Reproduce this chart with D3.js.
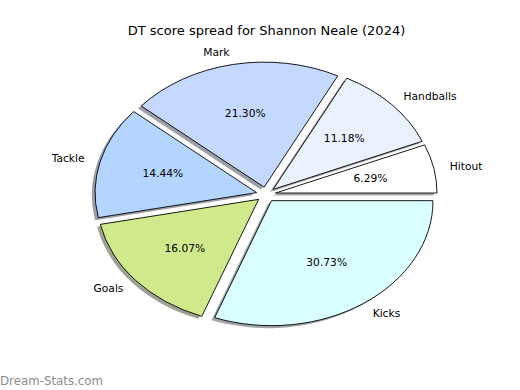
<!DOCTYPE html>
<html>
<head>
<meta charset="utf-8">
<script src="https://cdn.jsdelivr.net/npm/d3@7"></script>
<style>
  body { margin: 0; background: #fff; }
  svg { display: block; font-family: "DejaVu Sans", sans-serif; }
</style>
</head>
<body>
<svg width="520" height="390"></svg>
<script>
// data
var categories = ["Hitout", "Handballs", "Mark", "Tackle", "Goals", "Kicks"];
var values = [6.29, 11.18, 21.30, 14.44, 16.07, 30.73];
var colors = ["#ffffff", "#eaf1ff", "#c5d8ff", "#b3d5ff", "#cfe98b", "#d9ffff"];

var svg = d3.select("svg"),
    cx = 266, cy = 194.5,
    rx = 161.5, ry = 125,
    explode = 0.06;

// unit circle -> screen (pie is stretched like the original)
var x = d3.scaleLinear().domain([-1, 1]).range([cx - rx, cx + rx]),
    y = d3.scaleLinear().domain([-1, 1]).range([cy + ry, cy - ry]);

var data = categories.map(function(c, i) { return { name: c, value: values[i], color: colors[i] }; });

// start at 3 o'clock, go counter clockwise
var pie = d3.pie()
    .sort(null)
    .value(function(d) { return d.value; })
    .startAngle(Math.PI / 2)
    .endAngle(Math.PI / 2 - 2 * Math.PI);

var arcs = pie(data);
var arc = d3.arc().innerRadius(0).outerRadius(1);

function mid(d) { return (d.startAngle + d.endAngle) / 2; }
// point at distance r along the wedge's middle, with the explode offset
function px(d, r) { return x((r + explode) * Math.sin(mid(d))); }
function py(d, r) { return y((r + explode) * Math.cos(mid(d))); }

svg.append("text")
    .attr("x", 266.5)
    .attr("y", 30)
    .attr("text-anchor", "middle")
    .attr("dominant-baseline", "central")
    .style("font-size", "13px")
    .attr("fill", "#000")
    .text("DT score spread for Shannon Neale (2024)");

// shadows first
svg.append("g").selectAll("path")
    .data(arcs)
    .join("path")
    .attr("transform", function(d) {
        return "translate(" + (px(d, 0) - 0.02 * rx) + "," + (py(d, 0) + 0.02 * ry) + ") scale(" + rx + "," + ry + ")";
    })
    .attr("d", arc)
    .attr("fill", function(d) {
        var c = d3.rgb(d.data.color);
        return d3.rgb(c.r * 0.3, c.g * 0.3, c.b * 0.3);
    })
    .attr("fill-opacity", 0.5);

svg.append("g").selectAll("path")
    .data(arcs)
    .join("path")
    .attr("transform", function(d) {
        return "translate(" + px(d, 0) + "," + py(d, 0) + ") scale(" + rx + "," + ry + ")";
    })
    .attr("d", arc)
    .attr("fill", function(d) { return d.data.color; })
    .attr("stroke", "#000")
    .attr("stroke-width", 0.9)
    .attr("vector-effect", "non-scaling-stroke");

// category labels
svg.append("g").selectAll("text")
    .data(arcs)
    .join("text")
    .attr("x", function(d) { return px(d, 1.1); })
    .attr("y", function(d) { return py(d, 1.1); })
    .attr("text-anchor", function(d) { return Math.sin(mid(d)) < 0 ? "end" : "start"; })
    .attr("dominant-baseline", "central")
    .style("font-size", "10.7px")
    .text(function(d) { return d.data.name; });

// percentages
svg.append("g").selectAll("text")
    .data(arcs)
    .join("text")
    .attr("x", function(d) { return px(d, 0.6); })
    .attr("y", function(d) { return py(d, 0.6); })
    .attr("text-anchor", "middle")
    .attr("dominant-baseline", "central")
    .style("font-size", "10.7px")
    .text(function(d) { return d.data.value.toFixed(2) + "%"; });

svg.append("text")
    .attr("x", 0)
    .attr("y", 385)
    .attr("fill", "#8c8c8c")
    .style("font-size", "11.8px")
    .text("Dream-Stats.com");
</script>
</body>
</html>
